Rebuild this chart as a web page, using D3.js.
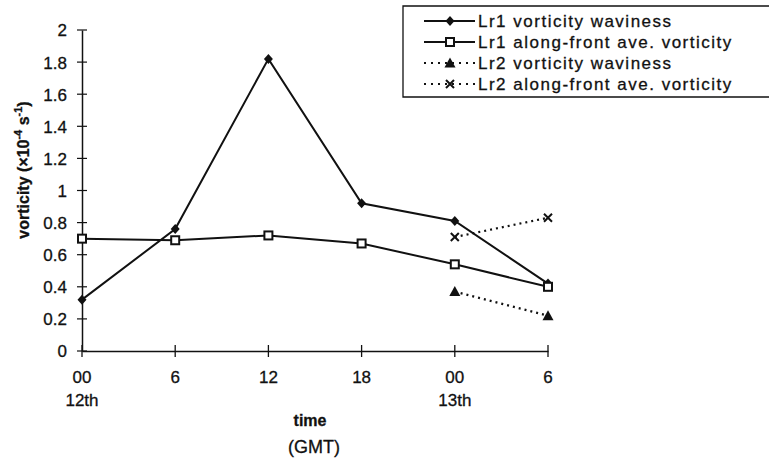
<!DOCTYPE html>
<html>
<head>
<meta charset="utf-8">
<script src="https://cdn.jsdelivr.net/npm/d3@7"></script>
<style>
body { margin: 0; background: #fff; }
text { font-family: "Liberation Sans", Arial, sans-serif; fill: #111; stroke: #111; stroke-width: 0.3; }
</style>
</head>
<body>
<svg id="chart" width="769" height="459"></svg>
<script>
// time steps (hours since 00 on the 12th)
var hours = [0, 6, 12, 18, 24, 30];
var tickTop = ["00", "6", "12", "18", "00", "6"];
var tickBottom = ["12th", "", "", "", "13th", ""];
var yTicks = [0, 0.2, 0.4, 0.6, 0.8, 1, 1.2, 1.4, 1.6, 1.8, 2];

var lr1Wavy = [0.32, 0.76, 1.82, 0.92, 0.81, 0.42];
var lr1Ave = [0.70, 0.69, 0.72, 0.67, 0.54, 0.40];
var lr2Hours = [24, 30];
var lr2Wavy = [0.37, 0.22];
var lr2Ave = [0.71, 0.83];

var series = [
  {name: "Lr1 vorticity waviness", x: hours, y: lr1Wavy, sym: "diamond", dash: null},
  {name: "Lr1 along-front ave. vorticity", x: hours, y: lr1Ave, sym: "square", dash: null},
  {name: "Lr2 vorticity waviness", x: lr2Hours, y: lr2Wavy, sym: "triangle", dash: "2,4"},
  {name: "Lr2 along-front ave. vorticity", x: lr2Hours, y: lr2Ave, sym: "cross", dash: "2,4"}
];

var svg = d3.select("#chart");
var x = d3.scaleLinear().domain([0, 30]).range([82, 548]);
var y = d3.scaleLinear().domain([0, 2]).range([351, 30]);

// axes
var yAxis = svg.append("g").attr("transform", "translate(82,0)")
  .call(d3.axisLeft(y).tickValues(yTicks).tickSize(0).tickPadding(15)
    .tickFormat(d3.format("~g")));
yAxis.select(".domain").attr("stroke", "#111").attr("stroke-width", 1.5);
yAxis.selectAll("text").attr("font-size", 17).attr("dy", "0.35em");
yAxis.selectAll(".tk").data(yTicks).enter().append("line")
  .attr("x1", -5).attr("x2", 5)
  .attr("y1", d => y(d)).attr("y2", d => y(d))
  .attr("stroke", "#111").attr("stroke-width", 1.2);

var xAxis = svg.append("g").attr("transform", "translate(0,351)")
  .call(d3.axisBottom(x).tickValues(hours).tickSize(0).tickFormat(""));
xAxis.select(".domain").attr("stroke", "#111").attr("stroke-width", 1.3);
xAxis.selectAll(".tk").data(hours).enter().append("line")
  .attr("x1", d => x(d)).attr("x2", d => x(d))
  .attr("y1", -6).attr("y2", 6)
  .attr("stroke", "#111").attr("stroke-width", 1.3);
xAxis.selectAll(".l1").data(hours).enter().append("text")
  .attr("x", d => x(d)).attr("y", 32).attr("text-anchor", "middle")
  .attr("font-size", 17).text((d, i) => tickTop[i]);
xAxis.selectAll(".l2").data(hours).enter().append("text")
  .attr("x", d => x(d)).attr("y", 55).attr("text-anchor", "middle")
  .attr("font-size", 17).text((d, i) => tickBottom[i]);

// axis titles
svg.append("text").attr("x", 310).attr("y", 426).attr("text-anchor", "middle")
  .attr("font-size", 16).attr("font-weight", "bold").text("time");
svg.append("text").attr("x", 314).attr("y", 453).attr("text-anchor", "middle")
  .attr("font-size", 18).text("(GMT)");
var yt = svg.append("text").attr("transform", "translate(29,170) rotate(-90)")
  .attr("text-anchor", "middle").attr("font-size", 16).attr("font-weight", "bold");
yt.append("tspan").text("vorticity (\u00d710");
yt.append("tspan").attr("dy", -7).attr("font-size", 11).text("-4");
yt.append("tspan").attr("dy", 7).text(" s");
yt.append("tspan").attr("dy", -7).attr("font-size", 11).text("-1");
yt.append("tspan").attr("dy", 7).text(")");

// markers
function marker(g, sym, cx, cy) {
  if (sym === "diamond") {
    g.append("path").attr("d", `M${cx},${cy-5}L${cx+4.5},${cy}L${cx},${cy+5}L${cx-4.5},${cy}Z`)
      .attr("fill", "#111");
  } else if (sym === "square") {
    g.append("rect").attr("x", cx - 4).attr("y", cy - 4).attr("width", 8).attr("height", 8)
      .attr("fill", "#fff").attr("stroke", "#111").attr("stroke-width", 2);
  } else if (sym === "triangle") {
    g.append("path").attr("d", `M${cx},${cy-5.5}L${cx+5.5},${cy+4.5}L${cx-5.5},${cy+4.5}Z`)
      .attr("fill", "#111");
  } else {
    g.append("path").attr("d", `M${cx-4},${cy-4}L${cx+4},${cy+4}M${cx+4},${cy-4}L${cx-4},${cy+4}`)
      .attr("stroke", "#111").attr("stroke-width", 2);
  }
}

var line = d3.line().x(d => x(d[0])).y(d => y(d[1]));
series.forEach(function(s) {
  var pts = s.x.map((h, i) => [h, s.y[i]]);
  var g = svg.append("g");
  g.append("path").attr("d", line(pts)).attr("fill", "none")
    .attr("stroke", "#111").attr("stroke-width", s.dash ? 2.2 : 2)
    .attr("stroke-dasharray", s.dash);
  pts.forEach(p => marker(g, s.sym, x(p[0]), y(p[1])));
});

// legend
var leg = svg.append("g");
leg.append("path").attr("d", "M769,6H403V97H769").attr("fill", "none")
  .attr("stroke", "#111").attr("stroke-width", 1.3);
series.forEach(function(s, i) {
  var ly = 21 + i * 21;
  leg.append("line").attr("x1", 424).attr("x2", 475).attr("y1", ly).attr("y2", ly)
    .attr("stroke", "#111").attr("stroke-width", s.dash ? 2.2 : 2)
    .attr("stroke-dasharray", s.dash ? "2,5" : null);
  marker(leg, s.sym, 450, ly);
  leg.append("text").attr("x", 478).attr("y", ly + 6).attr("font-size", 17)
    .attr("letter-spacing", 1.5).text(s.name);
});
</script>
</body>
</html>
